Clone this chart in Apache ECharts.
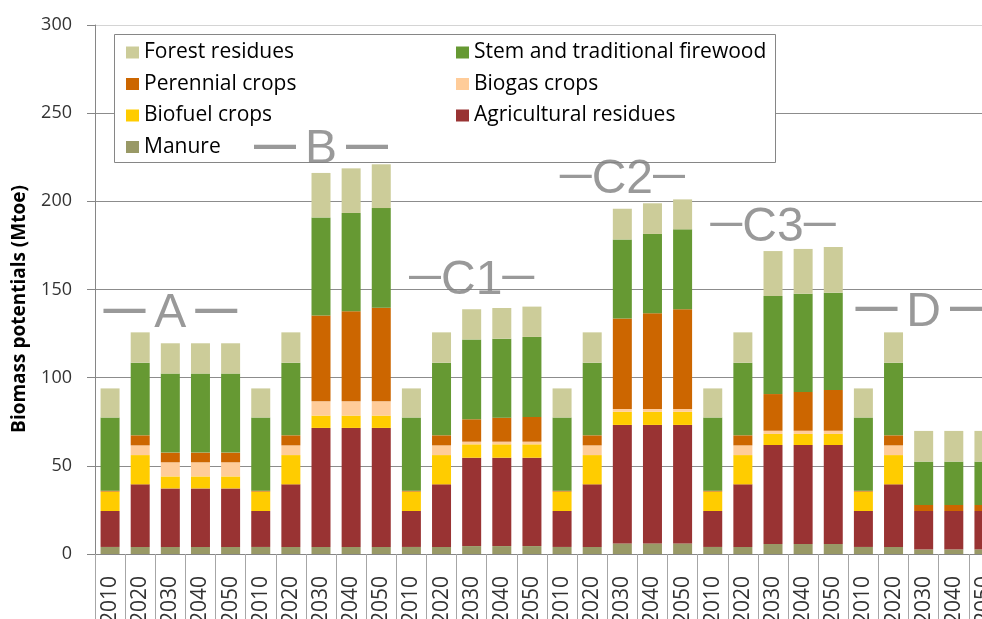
<!DOCTYPE html>
<html><head><meta charset="utf-8">
<script src="https://cdn.jsdelivr.net/npm/echarts/dist/echarts.min.js"></script>
<style>html,body{margin:0;padding:0;background:#fff;overflow:hidden}#c{width:1000px;height:619px}</style>
</head><body><div id="c"></div>
<script>
// ---- data ----
const scenarios = ['A', 'B', 'C1', 'C2', 'C3', 'D'];
const years = ['2010', '2020', '2030', '2040', '2050'];
const categories = scenarios.flatMap(() => years);
const yTicks = [0, 50, 100, 150, 200, 250, 300];

const manure    = [4,4,4,4,4, 4,4,4,4,4, 4,4,4.5,4.5,4.5, 4,4,6,6,6, 4,4,5.7,5.7,5.7, 4,4,2.6,2.6,2.6];
const agri      = [20.4,35.5,33.2,33.2,33.2, 20.4,35.5,67.5,67.5,67.5, 20.4,35.5,50.1,50.1,50.1, 20.4,35.5,67.2,67.2,67.2, 20.4,35.5,56.1,56.1,56.1, 20.4,35.5,21.8,21.8,21.8];
const biofuel   = [11,16.6,6.8,6.8,6.8, 11,16.6,7,7,7, 11,16.6,7.6,7.6,7.6, 11,16.6,7.5,7.5,7.5, 11,16.6,6.3,6.3,6.3, 11,16.6,0,0,0];
const biogas    = [0,5.5,8,8,8, 0,5.5,8.1,8.1,8.1, 0,5.5,1.5,1.5,1.5, 0,5.5,1.5,1.5,1.5, 0,5.5,1.8,1.8,1.8, 0,5.5,0,0,0];
const perennial = [0.5,5.7,5.5,5.5,5.5, 0.5,5.7,48.6,51.0,53.1, 0.5,5.7,12.7,13.6,14.0, 0.5,5.7,51.4,54.3,56.6, 0.5,5.7,20.8,22.0,23.1, 0.5,5.7,3.4,3.4,3.4];
const stem      = [41.5,41.2,44.8,44.8,44.8, 41.5,41.2,55.7,55.8,56.5, 41.5,41.2,45.3,44.8,45.4, 41.5,41.2,44.8,45.0,45.3, 41.5,41.2,55.6,55.7,55.2, 41.5,41.2,24.6,24.6,24.6];
const forest    = [16.5,17.2,17.2,17.2,17.2, 16.5,17.2,25.2,25.3,24.8, 16.5,17.2,17.1,17.4,17.2, 16.5,17.2,17.4,17.4,17.0, 16.5,17.2,25.5,25.4,25.9, 16.5,17.2,17.4,17.4,17.4];

// scenario label anchor (category index of group middle, value height)
const scenarioLabelAt = [[2,136],[7,229],[12,155],[17,212],[22,185],[27,137]];

// ---- chart ----
const FONT = '"Open Sans", sans-serif';
const seriesDefs = [
  ['Manure', manure, '#999966'],
  ['Agricultural residues', agri, '#993333'],
  ['Biofuel crops', biofuel, '#FFCC00'],
  ['Biogas crops', biogas, '#FFCC99'],
  ['Perennial crops', perennial, '#CC6600'],
  ['Stem and traditional firewood', stem, '#669933'],
  ['Forest residues', forest, '#CCCC99']
];

const chart = echarts.init(document.getElementById('c'), null, {renderer: 'canvas'});
const series = seriesDefs.map(([name, data, color]) => ({
  name, type: 'bar', stack: 'total', data, barWidth: 19,
  itemStyle: {color}, emphasis: {disabled: true}, z: 2
}));
series.push({
  type: 'scatter', name: 'labels', data: scenarioLabelAt,
  symbolSize: 1, itemStyle: {color: 'rgba(0,0,0,0)'}, silent: true, z: 5,
  labelLayout: {hideOverlap: false},
  label: {
    show: true, position: 'inside',
    formatter: p => {
      const n = scenarios[p.dataIndex];
      if (n.length === 2) return '{e|—}{l|' + n + '}{e|—}';
      return '{d|—}{s| }{l|' + n + '}{s| }{d|—}';
    },
    rich: {
      d: {fontSize: 42, fontWeight: 'bold', fontFamily: 'Liberation Sans', color: '#808080', padding: [0,0,8,0]},
      e: {fontSize: 32, fontWeight: 'bold', fontFamily: 'Liberation Sans', color: '#808080', padding: [0,0,8,0]},
      l: {fontSize: 48, fontFamily: 'Liberation Sans', color: '#808080'},
      s: {fontSize: 32, fontFamily: 'Liberation Sans'}
    }
  }
});

const splitColors = yTicks.map((t, i) => i === yTicks.length - 1 ? '#d4d4d4' : '#8c8c8c');

const legendText = {fontSize: 21, lineHeight: 21, fontFamily: FONT, color: '#000'};
chart.setOption({
  animation: false,
  grid: {left: 95, top: 25, width: 904, height: 529, containLabel: false, outerBoundsMode: 'none'},
  legend: [
    {data: ['Forest residues', 'Perennial crops', 'Biofuel crops', 'Manure'],
     orient: 'vertical', left: 126, top: 42, padding: 0, itemGap: 10.5,
     itemWidth: 13, itemHeight: 12, icon: 'rect', selectedMode: false, z: 6,
     textStyle: legendText},
    {data: ['Stem and traditional firewood', 'Biogas crops', 'Agricultural residues'],
     orient: 'vertical', left: 456, top: 42, padding: 0, itemGap: 10.5,
     itemWidth: 13, itemHeight: 12, icon: 'rect', selectedMode: false, z: 6,
     textStyle: legendText}
  ],
  xAxis: {
    type: 'category', data: categories, boundaryGap: true,
    axisLine: {lineStyle: {color: '#868686', width: 1}},
    axisTick: {show: true, interval: 0, length: 70, lineStyle: {color: '#a6a6a6'}},
    axisLabel: {interval: 0, rotate: 90, margin: 22, fontSize: 21, fontFamily: FONT, color: '#333'}
  },
  yAxis: {
    type: 'value', min: 0, max: 300, interval: 50,
    axisLine: {show: true, lineStyle: {color: '#868686'}},
    axisTick: {show: true, length: 8, lineStyle: {color: '#868686'}},
    axisLabel: {margin: 23, fontSize: 18, fontFamily: FONT, color: '#333'},
    splitLine: {lineStyle: {color: splitColors, width: 1}}
  },
  graphic: [
    {type: 'rect', z: 3, shape: {x: 114.5, y: 34.5, width: 661, height: 128},
     style: {fill: '#fff', stroke: '#868686', lineWidth: 1}},
    {type: 'text', z: 3, x: 20, y: 309, rotation: Math.PI / 2,
     style: {text: 'Biomass potentials (Mtoe)', font: 'bold 19px "Open Sans"', align: 'center', verticalAlign: 'middle', fill: '#000'}}
  ],
  series
});
</script>
</body></html>
